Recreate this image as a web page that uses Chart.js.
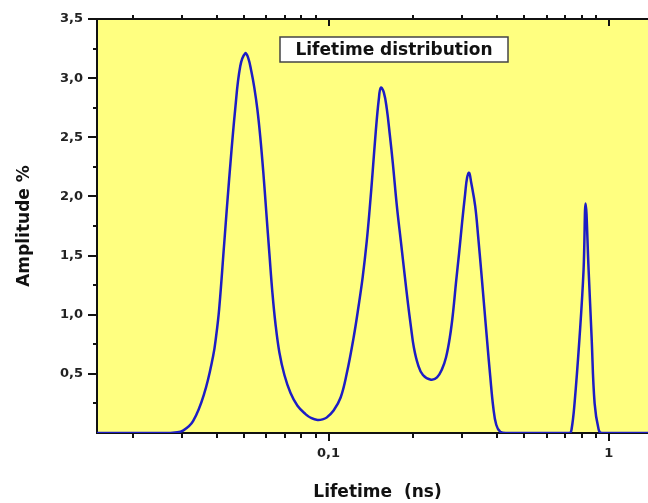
<!DOCTYPE html>
<html>
<head>
<meta charset="utf-8">
<script src="https://cdn.jsdelivr.net/npm/chart.js@4/dist/chart.umd.min.js"></script>
<style>
  html, body { margin: 0; padding: 0; overflow: hidden; background: #fff; }
  #wrap { position: absolute; left: 0; top: 0; width: 680px; height: 503px; }
</style>
</head>
<body>
<div id="wrap"><canvas id="lifetimeChart"></canvas></div>
<script>
// lifetime (ns) and amplitude (%)
const lifetimes = [
    0.0149, 0.02605, 0.02829, 0.03022, 0.03282, 0.03594, 0.03871, 0.03968, 0.04068, 0.04239,
    0.04417, 0.04642, 0.04837, 0.05041, 0.05167, 0.05297, 0.05430, 0.05566, 0.05705, 0.05849,
    0.05995, 0.06145, 0.06299, 0.06457, 0.06674, 0.06955, 0.07308, 0.07743, 0.08271, 0.08691,
    0.09133, 0.09517, 0.09836, 0.10421, 0.11041, 0.11604, 0.12290, 0.12809, 0.13239, 0.13683,
    0.14025, 0.14379, 0.14740, 0.15108, 0.15360, 0.15745, 0.16139, 0.16545, 0.16959, 0.17528,
    0.18116, 0.18724, 0.19193, 0.19675, 0.20168, 0.20845, 0.21723, 0.23207, 0.24384, 0.25410,
    0.26265, 0.27144, 0.27826, 0.28525, 0.29237, 0.29971, 0.30722, 0.31234, 0.31754, 0.32282,
    0.33365, 0.34203, 0.35061, 0.35936, 0.36838, 0.37764, 0.38712, 0.39680, 0.41010, 0.43093,
    0.72480, 0.73689, 0.75534, 0.78714, 0.81356, 0.82714, 0.84786, 0.86908, 0.89084, 0.92078,
    0.94389, 1.5];
const amplitudes = [
    0, 0, 0.005, 0.02, 0.10, 0.33, 0.65, 0.82, 1.05, 1.60,
    2.15, 2.74, 3.10, 3.21, 3.17, 3.06, 2.92, 2.74, 2.50, 2.20,
    1.86, 1.52, 1.19, 0.93, 0.68, 0.49, 0.34, 0.23, 0.16, 0.125,
    0.11, 0.115, 0.13, 0.19, 0.30, 0.50, 0.81, 1.08, 1.32, 1.62,
    1.90, 2.22, 2.55, 2.82, 2.92, 2.88, 2.74, 2.52, 2.28, 1.92,
    1.62, 1.32, 1.10, 0.90, 0.72, 0.58, 0.49, 0.45, 0.47, 0.54,
    0.64, 0.82, 1.02, 1.28, 1.52, 1.78, 2.02, 2.16, 2.20, 2.12,
    1.92, 1.66, 1.37, 1.07, 0.77, 0.48, 0.22, 0.07, 0.01, 0,
    0, 0.03, 0.25, 0.81, 1.38, 1.94, 1.38, 0.81, 0.25, 0.03,
    0, 0];

const xMajorTicks = [0.1, 1];
const xMinorTicks = [0.02, 0.03, 0.04, 0.05, 0.06, 0.07, 0.08, 0.09,
    0.2, 0.3, 0.4, 0.5, 0.6, 0.7, 0.8, 0.9];
const yMajorTicks = [0.5, 1.0, 1.5, 2.0, 2.5, 3.0, 3.5];
const yMinorTicks = [0.25, 0.75, 1.25, 1.75, 2.25, 2.75, 3.25];
const boxLabel = 'Lifetime distribution';

const fontFamily = '"DejaVu Sans", sans-serif';
const commaNum = v => String(v).replace('.', ',');

const points = lifetimes.map((t, i) => ({ x: t, y: amplitudes[i] }));

// yellow plot area, frame and the hand-drawn tick marks
const framePlugin = {
    id: 'frame',
    beforeDatasetsDraw(chart) {
        const a = chart.chartArea;
        const c = chart.ctx;
        c.save();
        c.fillStyle = '#ffff80';
        c.fillRect(a.left, a.top, a.right - a.left, a.bottom - a.top);
        c.strokeStyle = '#111';
        c.lineWidth = 2;
        c.beginPath();
        c.moveTo(a.left, a.bottom);
        c.lineTo(a.left, a.top);
        c.lineTo(a.right, a.top);
        c.lineTo(a.right, a.bottom);
        c.closePath();
        c.stroke();
        c.restore();
    },
    afterDatasetsDraw(chart) {
        const a = chart.chartArea;
        const c = chart.ctx;
        const xs = chart.scales.x;
        const ys = chart.scales.y;
        c.save();
        c.strokeStyle = '#111';
        c.lineWidth = 2;
        c.beginPath();
        xMinorTicks.forEach(v => {
            const px = Math.round(xs.getPixelForValue(v));
            c.moveTo(px, a.bottom); c.lineTo(px, a.bottom + 5);
            c.moveTo(px, a.top); c.lineTo(px, a.top - 4);
        });
        xMajorTicks.forEach(v => {
            const px = Math.round(xs.getPixelForValue(v));
            c.moveTo(px, a.bottom); c.lineTo(px, a.bottom + 8);
            c.moveTo(px, a.top); c.lineTo(px, a.top + 7);
        });
        yMinorTicks.forEach(v => {
            const py = Math.round(ys.getPixelForValue(v));
            c.moveTo(a.left, py); c.lineTo(a.left - 4, py);
        });
        yMajorTicks.forEach(v => {
            const py = Math.round(ys.getPixelForValue(v));
            c.moveTo(a.left, py); c.lineTo(a.left - 9, py);
        });
        c.stroke();

        // label box
        const bx = a.left + 183, by = a.top + 18, bw = 228, bh = 25;
        c.fillStyle = '#fff';
        c.fillRect(bx, by, bw, bh);
        c.strokeStyle = '#444';
        c.lineWidth = 1.5;
        c.strokeRect(bx, by, bw, bh);
        c.fillStyle = '#111';
        c.font = 'bold 17px ' + fontFamily;
        c.textAlign = 'center';
        c.textBaseline = 'middle';
        c.fillText(boxLabel, bx + bw / 2, by + bh / 2 + 1);
        c.restore();
    }
};

new Chart(document.getElementById('lifetimeChart'), {
    type: 'line',
    data: {
        datasets: [{
            label: boxLabel,
            data: points,
            borderColor: '#1d1dc4',
            borderWidth: 2.5,
            pointRadius: 0,
            fill: false,
            tension: 0.4
        }]
    },
    options: {
        responsive: true,
        maintainAspectRatio: false,
        animation: false,
        layout: { padding: { top: 19, right: 22, left: 0, bottom: 0 } },
        plugins: {
            legend: { display: false },
            tooltip: { enabled: false }
        },
        scales: {
            x: {
                type: 'logarithmic',
                bounds: 'data',
                min: 0.0149,
                max: 1.5,
                grid: { display: false, drawTicks: false },
                border: { display: false },
                afterBuildTicks: axis => {
                    axis.ticks = xMajorTicks.map(v => ({ value: v }));
                },
                afterFit: axis => {
                    axis.height = 70;
                    axis.paddingLeft = 0;
                    axis.paddingRight = 0;
                },
                ticks: {
                    padding: 13,
                    color: '#222',
                    font: { family: fontFamily, size: 13, weight: 'bold' },
                    callback: v => commaNum(v),
                    maxRotation: 0,
                    autoSkip: false
                },
                title: {
                    display: true,
                    text: 'Lifetime  (ns)',
                    color: '#111',
                    font: { family: fontFamily, size: 17, weight: 'bold' },
                    padding: { top: 0, bottom: 0 }
                }
            },
            y: {
                type: 'linear',
                bounds: 'data',
                min: 0,
                max: 3.5,
                grid: { display: false, drawTicks: false },
                border: { display: false },
                afterBuildTicks: axis => {
                    axis.ticks = yMajorTicks.map(v => ({ value: v }));
                },
                afterFit: axis => {
                    axis.width = 97;
                    axis.paddingTop = 0;
                    axis.paddingBottom = 0;
                },
                ticks: {
                    padding: 14,
                    color: '#222',
                    font: { family: fontFamily, size: 13, weight: 'bold' },
                    callback: v => commaNum(v.toFixed(1)),
                    autoSkip: false
                },
                title: {
                    display: true,
                    text: 'Amplitude %',
                    color: '#111',
                    font: { family: fontFamily, size: 17, weight: 'bold' },
                    padding: { top: 14, bottom: 0 }
                }
            }
        }
    },
    plugins: [framePlugin]
});
</script>
</body>
</html>
